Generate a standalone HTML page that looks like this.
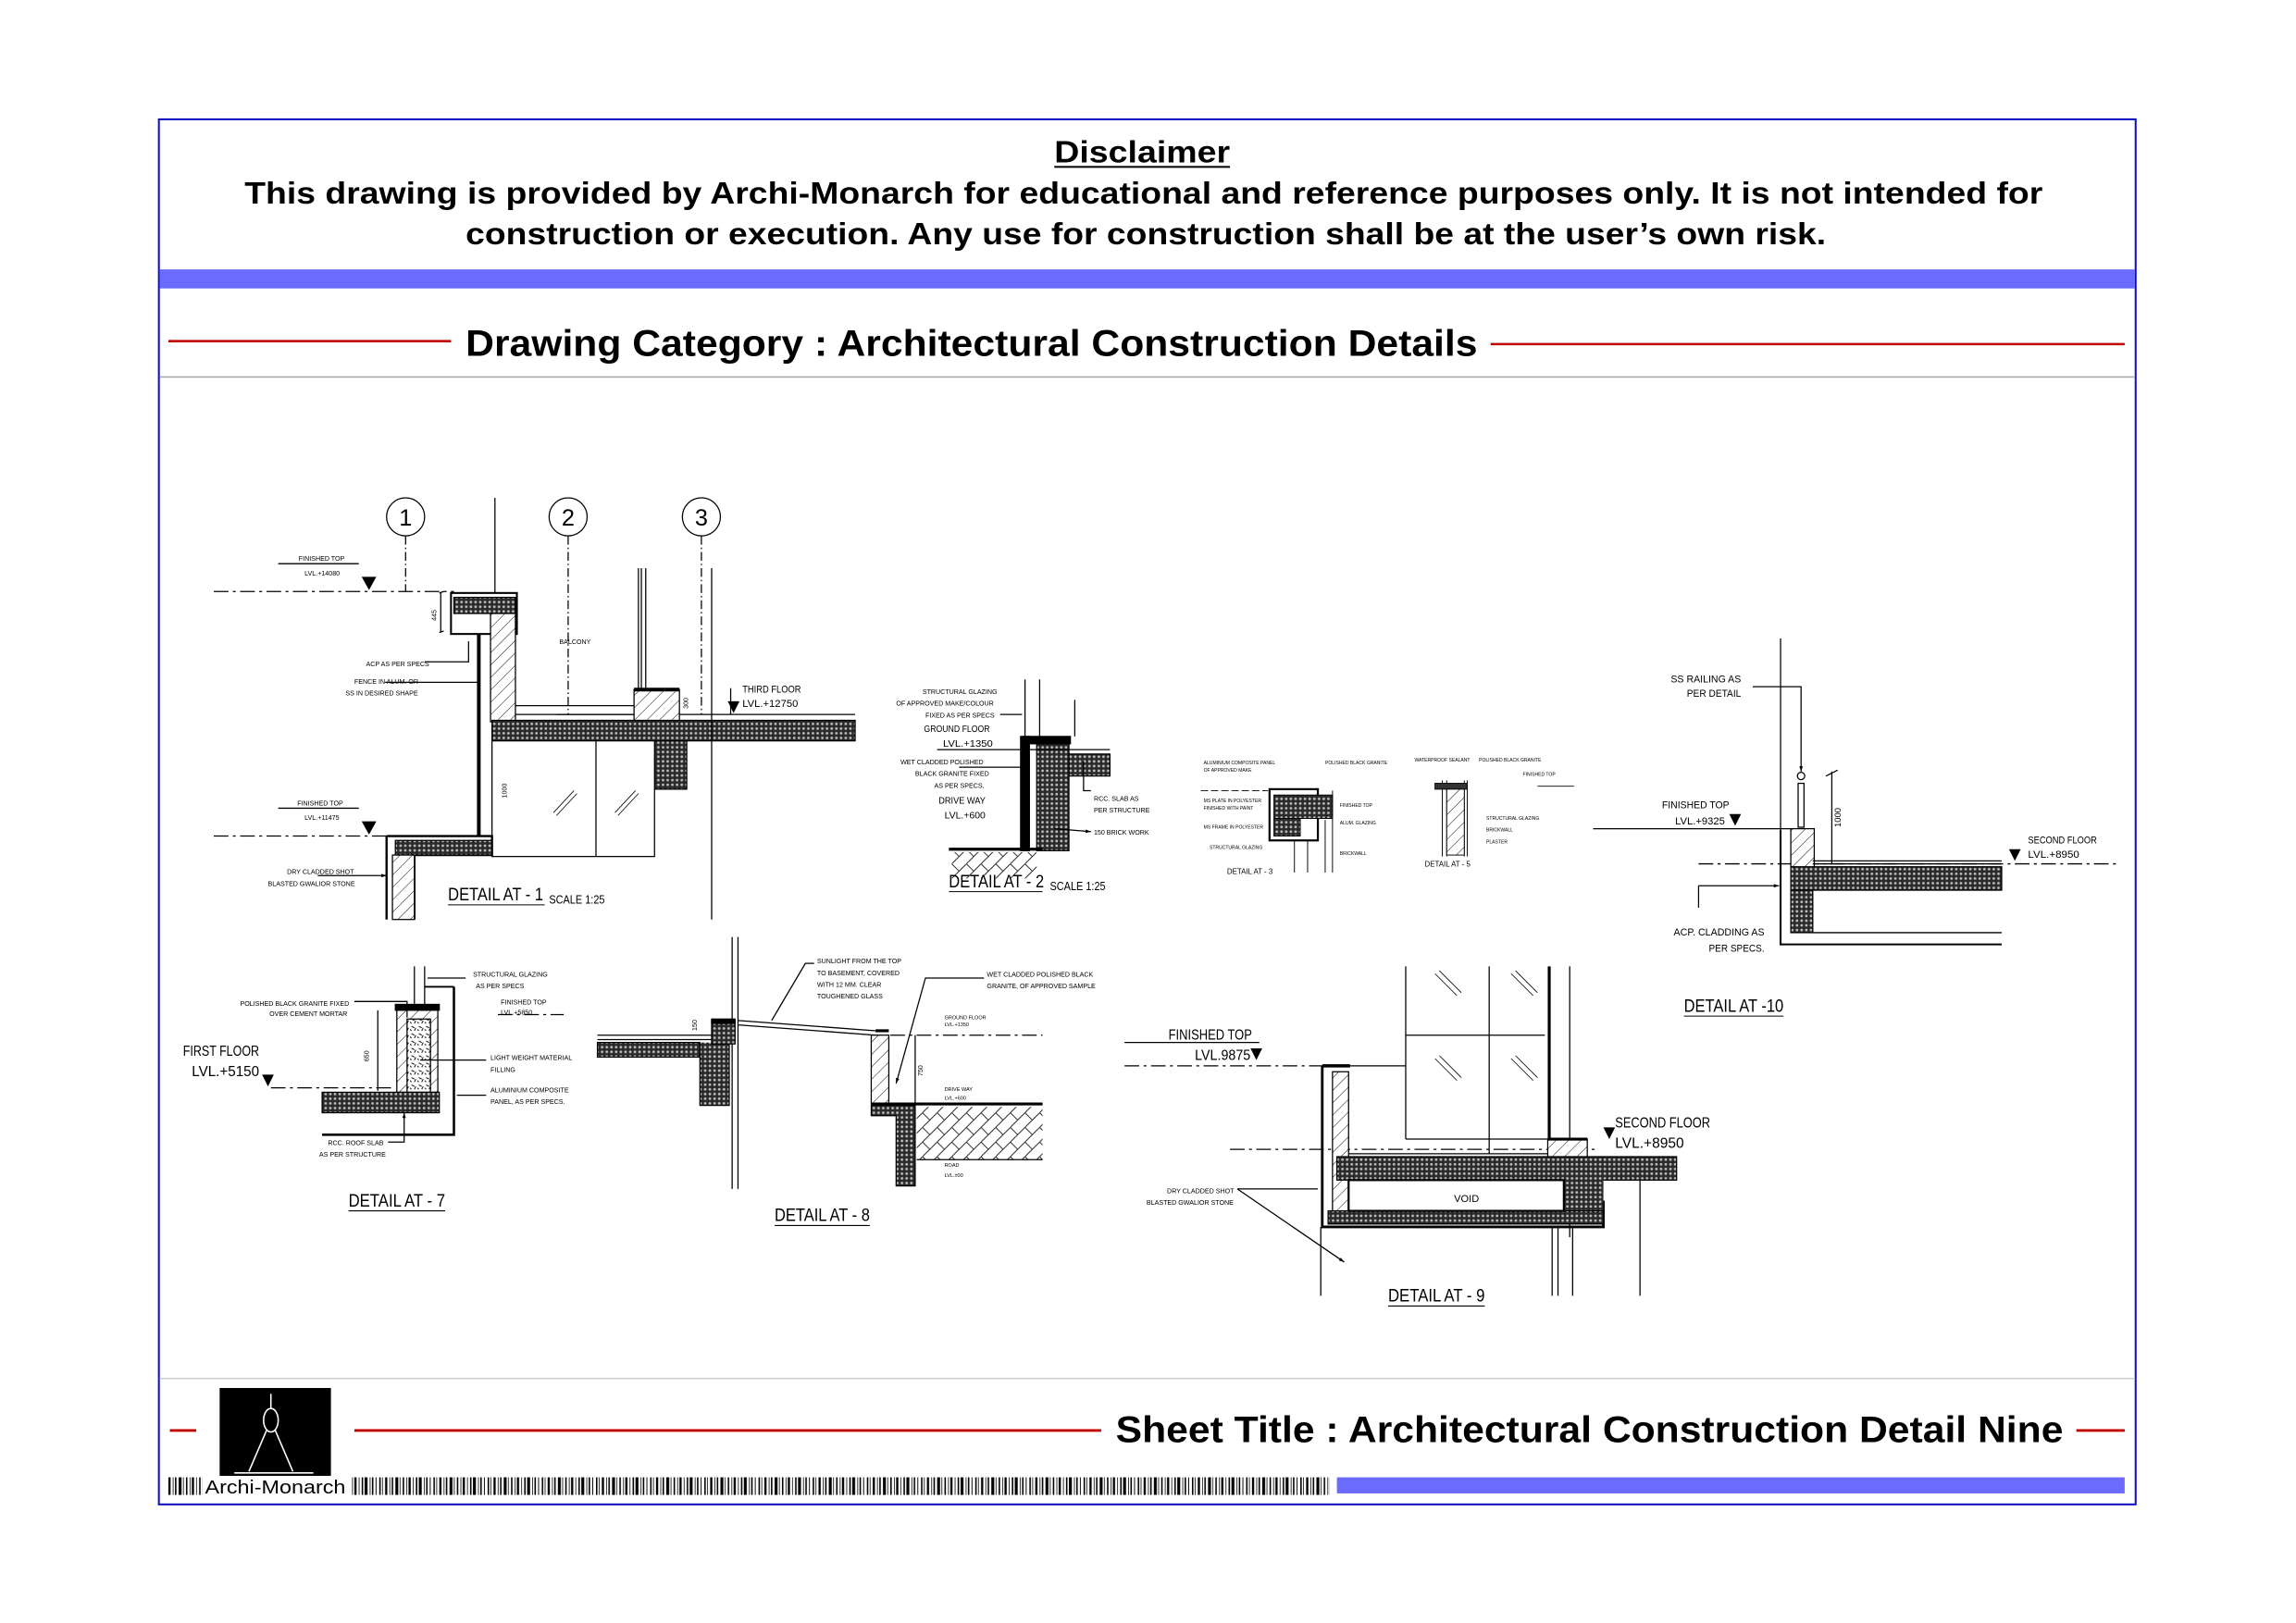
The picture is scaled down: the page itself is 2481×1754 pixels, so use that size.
<!DOCTYPE html>
<html><head><meta charset="utf-8"><style>
html,body{margin:0;padding:0;background:#fff}
svg{display:block}
text{font-family:"Liberation Sans Narrow","Liberation Sans",sans-serif;fill:#000}
.b{font-family:"Liberation Sans",sans-serif;font-weight:bold}
.t{font-size:4.5px}
.m{font-size:8px}
.l{font-size:12px}
</style></head><body>
<svg width="2481" height="1754" viewBox="0 0 1568 1108.5" preserveAspectRatio="none" xmlns="http://www.w3.org/2000/svg">
<defs>
<pattern id="cc" width="3.2" height="3.2" patternUnits="userSpaceOnUse"><rect width="3.2" height="3.2" fill="#2a2a2a"/><circle cx="1.6" cy="1.6" r="0.9" fill="#bbb"/></pattern>
<pattern id="ht" width="6" height="6" patternUnits="userSpaceOnUse" patternTransform="rotate(45)"><rect width="6" height="6" fill="#fff"/><line x1="0" y1="0" x2="0" y2="6" stroke="#000" stroke-width="0.6"/></pattern>
<pattern id="hh" width="10" height="10" patternUnits="userSpaceOnUse"><rect width="10" height="10" fill="#fff"/><path d="M0 10 L10 0 M0 0 L5 5" stroke="#000" stroke-width="0.5" fill="none"/></pattern>
<pattern id="rb" width="5" height="5" patternUnits="userSpaceOnUse"><rect width="5" height="5" fill="#fff"/><path d="M1 1 l2 1 M3 4 l1 -2 M0 3 l1 1" stroke="#000" stroke-width="0.6"/></pattern>
<pattern id="bc" width="37" height="12" patternUnits="userSpaceOnUse"><rect width="37" height="12" fill="#fff"/><g fill="#000"><rect x="0" width="1" height="12"/><rect x="2" width="0.5" height="12"/><rect x="4" width="1.5" height="12"/><rect x="7" width="0.5" height="12"/><rect x="8.5" width="1" height="12"/><rect x="11" width="2" height="12"/><rect x="14" width="0.5" height="12"/><rect x="16" width="1" height="12"/><rect x="18.5" width="0.5" height="12"/><rect x="20" width="1.5" height="12"/><rect x="23" width="0.5" height="12"/><rect x="25" width="1" height="12"/><rect x="27" width="2" height="12"/><rect x="30.5" width="0.5" height="12"/><rect x="32" width="1" height="12"/><rect x="34.5" width="0.6" height="12"/></g></pattern>
<marker id="ar" viewBox="0 0 6 4" refX="6" refY="2" markerWidth="5" markerHeight="3" orient="auto"><path d="M0 0 L6 2 L0 4z" fill="#000"/></marker>
</defs>

<!-- frame -->
<rect x="108.5" y="81.5" width="1350" height="946" fill="none" stroke="#1010c0" stroke-width="1.3"/>
<text class="b" x="780" y="111" font-size="21" text-anchor="middle" textLength="120" lengthAdjust="spacingAndGlyphs">Disclaimer</text>
<line x1="720" y1="114" x2="840" y2="114" stroke="#000" stroke-width="1.2"/>
<text class="b" x="167" y="139" font-size="21" textLength="1228" lengthAdjust="spacingAndGlyphs">This drawing is provided by Archi-Monarch for educational and reference purposes only. It is not intended for</text>
<text class="b" x="318" y="167" font-size="21" textLength="929" lengthAdjust="spacingAndGlyphs">construction or execution. Any use for construction shall be at the user’s own risk.</text>
<rect x="109" y="184" width="1349" height="13" fill="#6b6bff"/>
<line x1="115" y1="233" x2="308" y2="233" stroke="#c00000" stroke-width="1.6"/>
<line x1="1018" y1="235" x2="1451" y2="235" stroke="#c00000" stroke-width="1.6"/>
<text class="b" x="318" y="243" font-size="25" textLength="691" lengthAdjust="spacingAndGlyphs">Drawing Category : Architectural Construction Details</text>
<line x1="109" y1="257.5" x2="1458" y2="257.5" stroke="#aaa" stroke-width="1"/>
<line x1="109" y1="941.5" x2="1458" y2="941.5" stroke="#ccc" stroke-width="1"/>

<!-- footer -->
<rect x="150" y="948" width="76" height="60" fill="#000"/>
<g stroke="#fff" stroke-width="1" fill="none"><line x1="185" y1="952" x2="185" y2="962"/><ellipse cx="185" cy="970" rx="5" ry="8"/><line x1="182" y1="977" x2="170" y2="1005"/><line x1="188" y1="977" x2="200" y2="1005"/><line x1="160" y1="1006" x2="214" y2="1006"/></g>
<line x1="116" y1="977" x2="134" y2="977" stroke="#c00000" stroke-width="1.8"/>
<line x1="242" y1="977" x2="752" y2="977" stroke="#c00000" stroke-width="1.8"/>
<line x1="1418" y1="977" x2="1451" y2="977" stroke="#c00000" stroke-width="1.8"/>
<text class="b" x="762" y="985" font-size="25" textLength="647" lengthAdjust="spacingAndGlyphs">Sheet Title : Architectural Construction Detail Nine</text>
<rect x="114" y="1009" width="24" height="12" fill="url(#bc)"/>
<text x="140" y="1020" font-size="13" textLength="96" lengthAdjust="spacingAndGlyphs" font-family="Liberation Sans">Archi-Monarch</text>
<rect x="240" y="1009" width="668" height="12" fill="url(#bc)"/>
<rect x="913" y="1009" width="538" height="11" fill="#6b6bff"/>

<!-- DETAIL 1 -->
<g stroke="#000" fill="none" stroke-width="0.8">
<circle cx="277" cy="353" r="13"/><circle cx="388" cy="353" r="13"/><circle cx="479" cy="353" r="13"/>
<path d="M277 366 V404 M388 366 V488 M479 366 V488" stroke-dasharray="6 2 1 2"/>
<line x1="146" y1="404" x2="310" y2="404" stroke-dasharray="10 3 2 3"/>
<line x1="146" y1="571" x2="264" y2="571" stroke-dasharray="10 3 2 3"/>
<line x1="380" y1="488" x2="584" y2="488"/>
<line x1="190" y1="385" x2="245" y2="385"/><line x1="190" y1="552" x2="245" y2="552"/>
<rect x="308" y="405" width="45" height="28" stroke-width="1.3"/>
<rect x="310" y="408" width="42" height="11" fill="url(#cc)"/>
<rect x="335" y="419" width="17" height="74" fill="url(#ht)"/>
<line x1="327" y1="433" x2="327" y2="571" stroke-width="2.5"/>
<line x1="338" y1="340" x2="338" y2="405"/>
<rect x="336" y="492" width="248" height="14" fill="url(#cc)"/>
<rect x="447" y="506" width="22" height="33" fill="url(#cc)"/>
<path d="M352 482 H433 M352 488 H433"/>
<rect x="433" y="471" width="31" height="21" fill="url(#ht)"/>
<line x1="433" y1="471" x2="464" y2="471" stroke-width="2.5"/>
<path d="M436 388 V470 M438 388 V470 M441 388 V470 M486 388 V628"/>
<path d="M336 506 V585 H447 V539 M407 506 V585"/>
<path d="M378 555 L392 540 M380 557 L394 542 M420 555 L434 540 M422 557 L436 542" stroke-width="0.5"/>
<path d="M264 571 H336 V584 H283 V628 M264 571 V628" stroke-width="1.5"/>
<rect x="270" y="574" width="66" height="10" fill="url(#cc)"/>
<rect x="268" y="584" width="15" height="44" fill="url(#ht)"/>
<path d="M301 405 V432 M300 405 L303 404 M300 432 L303 431 M499 470 V488"/>
<path d="M290 452 H320 V438 M263 466 H327 M217 598 H264" marker-end="url(#ar)"/>
</g>
<path d="M247 394 L257 394 L252 403z M247 561 L257 561 L252 570z M497 479 L505 479 L501 487z" fill="#000"/>
<g class="t">
<text x="204" y="383">FINISHED TOP</text><text x="208" y="393">LVL.+14080</text>
<text x="203" y="550">FINISHED TOP</text><text x="208" y="560">LVL.+11475</text>
<text x="250" y="455">ACP AS PER SPECS</text><text x="242" y="467">FENCE IN ALUM. OR</text><text x="236" y="475">SS IN DESIRED SHAPE</text>
<text x="196" y="597">DRY CLADDED SHOT</text><text x="183" y="605">BLASTED GWALIOR STONE</text>
<text x="382" y="440">BALCONY</text><text x="507" y="473" font-size="7" textLength="40" lengthAdjust="spacingAndGlyphs">THIRD FLOOR</text><text x="507" y="483" font-size="7" textLength="38" lengthAdjust="spacingAndGlyphs">LVL.+12750</text>
<text x="298" y="424" transform="rotate(-90 298 424)">445</text><text x="470" y="484" transform="rotate(-90 470 484)">300</text><text x="346" y="545" transform="rotate(-90 346 545)">1000</text>
</g>
<text x="277" y="359" font-size="16" text-anchor="middle">1</text><text x="388" y="359" font-size="16" text-anchor="middle">2</text><text x="479" y="359" font-size="16" text-anchor="middle">3</text>
<text class="l" x="306" y="615" textLength="65" lengthAdjust="spacingAndGlyphs">DETAIL AT - 1</text><text class="m" x="375" y="617" textLength="38" lengthAdjust="spacingAndGlyphs">SCALE 1:25</text>
<line x1="306" y1="618" x2="372" y2="618" stroke="#000" stroke-width="0.7"/>

<!-- DETAIL 2 -->
<g stroke="#000" fill="none" stroke-width="0.8">
<path d="M700 464 V503 M710 464 V503 M734 478 V503"/>
<rect x="699" y="503" width="32" height="5" fill="#000"/>
<rect x="697" y="503" width="6" height="78" fill="#000"/>
<rect x="708" y="508" width="22" height="73" fill="url(#cc)"/>
<rect x="730" y="515" width="28" height="15" fill="url(#cc)"/>
<line x1="648" y1="580" x2="712" y2="580" stroke-width="2"/>
<rect x="650" y="582" width="58" height="18" fill="url(#hh)" stroke="none"/>
<line x1="640" y1="512" x2="758" y2="512"/>
<path d="M683 488 H698 M655 524 H697 M740 520 V540 H745 M720 566 L745 568" marker-end="url(#ar)"/>
</g>
<g class="t">
<text x="630" y="474">STRUCTURAL GLAZING</text><text x="612" y="482">OF APPROVED MAKE/COLOUR</text><text x="632" y="490">FIXED AS PER SPECS</text>
<text x="631" y="500" font-size="6.5" textLength="45" lengthAdjust="spacingAndGlyphs">GROUND FLOOR</text><text x="644" y="510" font-size="6.5" textLength="34" lengthAdjust="spacingAndGlyphs">LVL.+1350</text>
<text x="615" y="522">WET CLADDED POLISHED</text><text x="625" y="530">BLACK GRANITE FIXED</text><text x="638" y="538">AS PER SPECS.</text>
<text x="641" y="549" font-size="6.5" textLength="32" lengthAdjust="spacingAndGlyphs">DRIVE WAY</text><text x="645" y="559" font-size="6.5" textLength="28" lengthAdjust="spacingAndGlyphs">LVL.+600</text>
<text x="747" y="547">RCC. SLAB AS</text><text x="747" y="555">PER STRUCTURE</text><text x="747" y="570">150 BRICK WORK</text>
</g>
<text class="l" x="648" y="606" textLength="65" lengthAdjust="spacingAndGlyphs">DETAIL AT - 2</text><text class="m" x="717" y="608" textLength="38" lengthAdjust="spacingAndGlyphs">SCALE 1:25</text>
<line x1="648" y1="609" x2="712" y2="609" stroke="#000" stroke-width="0.7"/>

<!-- DETAIL 3 & 5 -->
<g stroke="#000" fill="none" stroke-width="0.6">
<line x1="820" y1="540" x2="866" y2="540" stroke-dasharray="5 2"/>
<rect x="867" y="539" width="33" height="35" stroke-width="1.4"/>
<rect x="870" y="543" width="40" height="16" fill="url(#cc)"/>
<rect x="870" y="559" width="18" height="12" fill="url(#cc)"/>
<path d="M884 574 V596 M893 574 V596 M905 560 V596 M910 540 V596"/>
<path d="M985 533 V585 M988 533 V585 M1000 533 V585 M1002 533 V585 M1050 537 H1075"/>
<rect x="980" y="535" width="22" height="4" fill="#333"/>
<rect x="988" y="539" width="12" height="45" fill="url(#ht)"/>
</g>
<g font-size="3.2"><text x="822" y="522">ALUMINIUM COMPOSITE PANEL</text><text x="822" y="527">OF APPROVED MAKE</text><text x="822" y="548">MS PLATE IN POLYESTER</text><text x="822" y="553">FINISHED WITH PAINT</text><text x="822" y="566">MS FRAME IN POLYESTER</text><text x="826" y="580">STRUCTURAL GLAZING</text><text x="905" y="522">POLISHED BLACK GRANITE</text><text x="915" y="551">FINISHED TOP</text><text x="915" y="563">ALUM. GLAZING</text><text x="915" y="584">BRICKWALL</text>
<text x="966" y="520">WATERPROOF SEALANT</text><text x="1010" y="520">POLISHED BLACK GRANITE</text><text x="1040" y="530">FINISHED TOP</text><text x="1015" y="560">STRUCTURAL GLAZING</text><text x="1015" y="568">BRICKWALL</text><text x="1015" y="576">PLASTER</text></g>
<text x="838" y="597" font-size="5">DETAIL AT - 3</text><text x="973" y="592" font-size="5">DETAIL AT - 5</text>

<!-- DETAIL 10 -->
<g stroke="#000" fill="none" stroke-width="0.8">
<line x1="1216" y1="436" x2="1216" y2="567"/>
<path d="M1216 567 V645 H1367" stroke-width="1.3"/>
<line x1="1088" y1="566" x2="1223" y2="566"/>
<line x1="1160" y1="590" x2="1446" y2="590" stroke-dasharray="10 3 2 3"/>
<path d="M1197 469 H1230 V527" marker-end="url(#ar)"/>
<circle cx="1230" cy="530" r="2.5"/>
<rect x="1228" y="535" width="4" height="30"/>
<rect x="1223" y="566" width="16" height="27" fill="url(#ht)"/>
<rect x="1223" y="592" width="144" height="16" fill="url(#cc)"/>
<rect x="1223" y="608" width="15" height="29" fill="url(#cc)"/>
<path d="M1238 637 H1367 M1238 588 H1367 M1238 590 H1367"/>
<path d="M1251 527 V590 M1247 530 L1255 526"/>
<path d="M1160 605 V620 M1160 605 H1215" marker-end="url(#ar)"/>
</g>
<path d="M1181 556 L1189 556 L1185 564z M1372 580 L1380 580 L1376 588z" fill="#000"/>
<g class="t">
<text x="1141" y="466" font-size="7" textLength="48" lengthAdjust="spacingAndGlyphs">SS RAILING AS</text><text x="1152" y="476" font-size="7" textLength="37" lengthAdjust="spacingAndGlyphs">PER DETAIL</text>
<text x="1135" y="552" font-size="7" textLength="46" lengthAdjust="spacingAndGlyphs">FINISHED TOP</text><text x="1144" y="563" font-size="7" textLength="34" lengthAdjust="spacingAndGlyphs">LVL.+9325</text>
<text x="1385" y="576" font-size="7" textLength="47" lengthAdjust="spacingAndGlyphs">SECOND FLOOR</text><text x="1385" y="586" font-size="7" textLength="35" lengthAdjust="spacingAndGlyphs">LVL.+8950</text>
<text x="1143" y="639" font-size="7" textLength="62" lengthAdjust="spacingAndGlyphs">ACP. CLADDING AS</text><text x="1167" y="650" font-size="7" textLength="38" lengthAdjust="spacingAndGlyphs">PER SPECS.</text>
<text x="1257" y="565" font-size="6" transform="rotate(-90 1257 565)">1000</text>
</g>
<text class="l" x="1150" y="691" textLength="68" lengthAdjust="spacingAndGlyphs">DETAIL AT -10</text>
<line x1="1150" y1="694" x2="1218" y2="694" stroke="#000" stroke-width="0.7"/>

<!-- DETAIL 7 -->
<g stroke="#000" fill="none" stroke-width="0.8">
<path d="M283 660 V686 M290 660 V686 M292 668 H318"/>
<line x1="290" y1="674" x2="310" y2="674" stroke-width="1.2"/>
<path d="M310 674 V775 H220" stroke-width="1.6"/>
<rect x="270" y="686" width="30" height="4" fill="#000"/>
<rect x="271" y="690" width="28" height="56" fill="url(#ht)"/>
<rect x="278" y="696" width="16" height="50" fill="url(#rb)"/>
<rect x="220" y="746" width="80" height="14" fill="url(#cc)"/>
<line x1="185" y1="743" x2="270" y2="743" stroke-dasharray="10 3 2 3"/>
<line x1="340" y1="693" x2="385" y2="693" stroke-dasharray="10 3 2 3"/>
<path d="M242 684 H278 V695 M332 724 H287 M332 748 H312 M265 780 H276 V760" marker-end="url(#ar)"/>
<path d="M258 690 V745"/>
</g>
<path d="M179 734 L187 734 L183 742z" fill="#000"/>
<g class="t"><text x="323" y="667">STRUCTURAL GLAZING</text><text x="325" y="675">AS PER SPECS</text><text x="164" y="687">POLISHED BLACK GRANITE FIXED</text><text x="184" y="694">OVER CEMENT MORTAR</text>
<text x="342" y="686">FINISHED TOP</text><text x="342" y="693">LVL.+5850</text><text x="335" y="724">LIGHT WEIGHT MATERIAL</text><text x="335" y="732">FILLING</text><text x="335" y="746">ALUMINIUM COMPOSITE</text><text x="335" y="754">PANEL, AS PER SPECS.</text><text x="224" y="782">RCC. ROOF SLAB</text><text x="218" y="790">AS PER STRUCTURE</text>
<text x="252" y="725" transform="rotate(-90 252 725)">650</text></g>
<text x="125" y="721" font-size="10" textLength="52" lengthAdjust="spacingAndGlyphs">FIRST FLOOR</text><text x="131" y="735" font-size="10" textLength="46" lengthAdjust="spacingAndGlyphs">LVL.+5150</text>
<text class="l" x="238" y="824" textLength="66" lengthAdjust="spacingAndGlyphs">DETAIL AT - 7</text>
<line x1="238" y1="827" x2="304" y2="827" stroke="#000" stroke-width="0.7"/>

<!-- DETAIL 8 -->
<g stroke="#000" fill="none" stroke-width="0.8">
<path d="M500 640 V812 M504 640 V812"/>
<path d="M408 707 H486 M408 710 H486"/>
<rect x="408" y="712" width="70" height="10" fill="url(#cc)"/>
<path d="M478 712 V755 H498 V712" fill="url(#cc)"/>
<rect x="486" y="697" width="16" height="16" fill="url(#cc)"/>
<rect x="486" y="696" width="16" height="3" fill="#000"/>
<path d="M504 697 L598 704 M504 700 L598 707"/>
<line x1="598" y1="704" x2="607" y2="704" stroke-width="2"/>
<rect x="595" y="707" width="12" height="47" fill="url(#ht)"/>
<line x1="595" y1="754" x2="712" y2="754" stroke-width="2"/>
<path d="M595 755 V762 H612 V810 H625 V755z" fill="url(#cc)"/>
<rect x="626" y="756" width="86" height="36" fill="url(#hh)" stroke="none"/>
<line x1="626" y1="792" x2="712" y2="792"/>
<line x1="608" y1="707" x2="712" y2="707" stroke-dasharray="10 3 2 3"/>
<path d="M556 658 H550 L527 697 M672 668 H632 L612 740" marker-end="url(#ar)"/>
<path d="M625 707 V754"/>
</g>
<g class="t"><text x="558" y="658">SUNLIGHT FROM THE TOP</text><text x="558" y="666">TO BASEMENT, COVERED</text><text x="558" y="674">WITH 12 MM. CLEAR</text><text x="558" y="682">TOUGHENED GLASS</text><text x="674" y="667">WET CLADDED POLISHED BLACK</text><text x="674" y="675">GRANITE, OF APPROVED SAMPLE</text>
<text x="645" y="696" font-size="3.5">GROUND FLOOR</text><text x="645" y="701" font-size="3.5">LVL.+1350</text><text x="645" y="745" font-size="3.5">DRIVE WAY</text><text x="645" y="751" font-size="3.5">LVL.+600</text><text x="645" y="797" font-size="3.5">ROAD</text><text x="645" y="804" font-size="3.5">LVL.±00</text>
<text x="476" y="704" transform="rotate(-90 476 704)">150</text><text x="630" y="735" transform="rotate(-90 630 735)">750</text></g>
<text class="l" x="529" y="834" textLength="65" lengthAdjust="spacingAndGlyphs">DETAIL AT - 8</text>
<line x1="529" y1="837" x2="594" y2="837" stroke="#000" stroke-width="0.7"/>

<!-- DETAIL 9 -->
<g stroke="#000" fill="none" stroke-width="0.8">
<path d="M960 660 V778 M1017 660 V788 M1072 660 V845 M960 707 H1055 M960 778 H1057"/>
<line x1="1058" y1="660" x2="1058" y2="778" stroke-width="2"/>
<path d="M980 665 L995 680 M983 663 L998 678 M1032 665 L1047 680 M1035 663 L1050 678 M980 723 L995 738 M983 721 L998 736 M1032 723 L1047 738 M1035 721 L1050 736" stroke-width="0.5"/>
<line x1="768" y1="728" x2="903" y2="728" stroke-dasharray="10 3 2 3"/>
<line x1="840" y1="785" x2="1090" y2="785" stroke-dasharray="10 3 2 3"/>
<line x1="903" y1="728" x2="922" y2="728" stroke-width="2.2"/>
<path d="M903 728 V838 H1095 V820" stroke-width="1.8"/>
<rect x="910" y="732" width="11" height="100" fill="url(#ht)"/>
<path d="M921 728 H960 M921 788 H1057"/>
<rect x="913" y="790" width="232" height="16" fill="url(#cc)"/>
<path d="M1066 805 H1095 V828 H1066z" fill="url(#cc)" stroke="none"/>
<rect x="907" y="827" width="188" height="9" fill="url(#cc)"/>
<rect x="921" y="806" width="147" height="21" fill="#fff" stroke-width="1.4"/>
<rect x="1057" y="778" width="27" height="12" fill="url(#ht)"/>
<line x1="1057" y1="778" x2="1084" y2="778" stroke-width="2"/>
<path d="M902 838 V885 M1060 838 V885 M1064 838 V885 M1074 838 V885 M1120 806 V885"/>
<path d="M845 812 H900 M845 812 L918 862" marker-end="url(#ar)"/>
<line x1="768" y1="712" x2="860" y2="712"/>
</g>
<path d="M854 716 L862 716 L858 724z M1095 770 L1103 770 L1099 778z" fill="#000"/>
<g class="t"><text x="797" y="815">DRY CLADDED SHOT</text><text x="783" y="823">BLASTED GWALIOR STONE</text><text x="993" y="821" font-size="7">VOID</text></g>
<text x="798" y="710" font-size="10" textLength="57" lengthAdjust="spacingAndGlyphs">FINISHED TOP</text><text x="816" y="724" font-size="10" textLength="38" lengthAdjust="spacingAndGlyphs">LVL.9875</text>
<text x="1103" y="770" font-size="10" textLength="65" lengthAdjust="spacingAndGlyphs">SECOND FLOOR</text><text x="1103" y="784" font-size="10" textLength="47" lengthAdjust="spacingAndGlyphs">LVL.+8950</text>
<text class="l" x="948" y="889" textLength="66" lengthAdjust="spacingAndGlyphs">DETAIL AT - 9</text>
<line x1="948" y1="892" x2="1014" y2="892" stroke="#000" stroke-width="0.7"/>
</svg>
</body></html>
